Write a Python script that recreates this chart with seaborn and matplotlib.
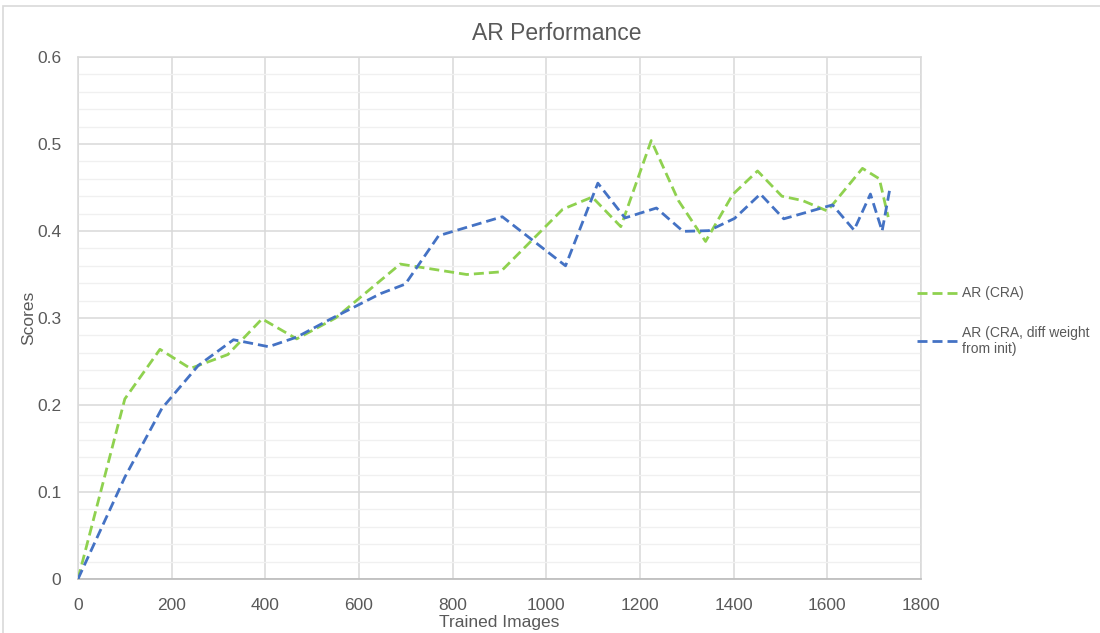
import numpy as np
import pandas as pd
import matplotlib
matplotlib.use("Agg")
import matplotlib.pyplot as plt
from matplotlib.patches import Rectangle
from matplotlib.lines import Line2D
import seaborn as sns

# ---- data ----
green_label = "AR (CRA)"
blue_label = "AR (CRA, diff weight\nfrom init)"

green_x = [0, 100, 175, 240, 320, 393, 467, 550, 688, 830, 902, 1035, 1098, 1159,
           1224, 1282, 1340, 1398, 1451, 1503, 1547, 1600, 1675, 1711, 1730]
green_y = [0.0, 0.207, 0.264, 0.242, 0.258, 0.299, 0.276, 0.300, 0.362, 0.350, 0.353,
           0.425, 0.439, 0.405, 0.504, 0.435, 0.388, 0.442, 0.469, 0.440, 0.435,
           0.423, 0.472, 0.460, 0.416]

blue_x = [0, 100, 179, 257, 332, 407, 467, 540, 646, 699, 770, 906, 1041, 1110,
          1168, 1235, 1292, 1347, 1402, 1457, 1507, 1611, 1657, 1692, 1717, 1734]
blue_y = [0.0, 0.117, 0.196, 0.2455, 0.275, 0.267, 0.278, 0.299, 0.328, 0.339,
          0.3946, 0.4164, 0.360, 0.455, 0.415, 0.4264, 0.3996, 0.4004, 0.4145,
          0.4425, 0.414, 0.430, 0.401, 0.4425, 0.400, 0.450]

x_ticks = [0, 200, 400, 600, 800, 1000, 1200, 1400, 1600, 1800]
y_ticks = [0, 0.1, 0.2, 0.3, 0.4, 0.5, 0.6]
y_tick_labels = ["0", "0.1", "0.2", "0.3", "0.4", "0.5", "0.6"]

title = "AR Performance"
x_label = "Trained Images"
y_label = "Scores"

GREEN = "#8FD14F"
BLUE = "#4472C4"
TEXT = "#595959"

sns.set_theme(style="white")
plt.rcParams["font.family"] = ["Liberation Sans", "DejaVu Sans"]

fig = plt.figure(figsize=(11, 6.33), dpi=100)
ax = fig.add_axes([78 / 1100, 54 / 633, (921 - 78) / 1100, (579 - 57) / 633])

# outer chart frame
fig.patches.append(Rectangle((3 / 1100, -0.05), 1.2, (633 - 6) / 633 + 0.05,
                             transform=fig.transFigure, fill=False,
                             edgecolor="#d9d9d9", linewidth=1.2, zorder=0))

df_g = pd.DataFrame({"x": green_x, "y": green_y})
df_b = pd.DataFrame({"x": blue_x, "y": blue_y})

dash = (3.6, 1.8)
sns.lineplot(data=df_g, x="x", y="y", ax=ax, color=GREEN, linewidth=2.0,
             estimator=None, sort=False, zorder=3)
sns.lineplot(data=df_b, x="x", y="y", ax=ax, color=BLUE, linewidth=2.0,
             estimator=None, sort=False, zorder=4)
for ln in ax.get_lines():
    ln.set_linestyle((0, dash))

ax.set_xlim(0, 1800)
ax.set_ylim(0, 0.6)
ax.set_xticks(x_ticks)
ax.set_xticklabels([str(t) for t in x_ticks])
ax.set_yticks(y_ticks)
ax.set_yticklabels(y_tick_labels)
ax.set_yticks(np.arange(0, 0.6001, 0.02), minor=True)

ax.grid(which="major", axis="both", color="#d9d9d9", linewidth=1.1, zorder=1)
ax.grid(which="minor", axis="y", color="#f0f0f0", linewidth=1.0, zorder=0)
ax.set_axisbelow(True)

for side in ["top", "right", "left"]:
    ax.spines[side].set_color("#d9d9d9")
    ax.spines[side].set_linewidth(1.1)
ax.spines["bottom"].set_color("#bfbfbf")
ax.spines["bottom"].set_linewidth(1.3)

ax.tick_params(axis="both", which="both", length=0, labelsize=12.5, colors=TEXT)
ax.tick_params(axis="x", pad=14)
ax.tick_params(axis="y", pad=12)

ax.set_xlabel(x_label, fontsize=12.5, color=TEXT, labelpad=1)
ax.set_ylabel(y_label, fontsize=12.5, color=TEXT, labelpad=1)
fig.text(557 / 1100, 1 - 33 / 633, title, fontsize=16.5, color=TEXT,
         ha="center", va="center")

handles = [Line2D([0], [0], color=GREEN, lw=2.0, linestyle=(0, dash)),
           Line2D([0], [0], color=BLUE, lw=2.0, linestyle=(0, dash))]
leg = fig.legend(handles, [green_label, blue_label], loc="upper left",
                 bbox_to_anchor=(904 / 1100, 1 - 274 / 633), frameon=False,
                 fontsize=10, labelcolor=TEXT, handlelength=2.9,
                 handletextpad=0.35, labelspacing=1.8)

fig.savefig("out.png", dpi=100)
